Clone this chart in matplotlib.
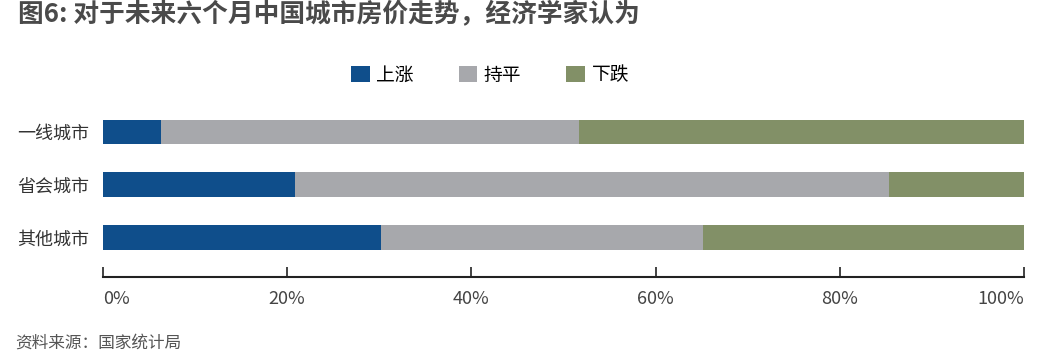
import matplotlib
matplotlib.use("Agg")
import matplotlib.pyplot as plt
import numpy as np

plt.rcParams['font.family'] = ['Noto Sans CJK SC', 'DejaVu Sans']

categories = ["一线城市", "省会城市", "其他城市"]
series_names = ["上涨", "持平", "下跌"]
up = [6.3, 20.9, 30.2]
flat = [45.4, 64.4, 35.0]
down = [48.3, 14.7, 34.8]
tick_labels = ["0%", "20%", "40%", "60%", "80%", "100%"]
colors = ["#0F4E8B", "#A7A8AC", "#829067"]

W, H = 1050, 358
fig = plt.figure(figsize=(W / 100, H / 100), dpi=100)
ax = fig.add_axes([103 / W, 1 - 277 / H, (1024 - 103) / W, (277 - 105.6) / H])

y = np.arange(len(categories))
left = np.zeros(len(categories))
for vals, name, c in zip([up, flat, down], series_names, colors):
    ax.barh(y, vals, left=left, height=0.47, color=c, label=name)
    left = left + np.array(vals)

ax.set_xlim(0, 100)
ax.set_ylim(2.75, -0.5)
ax.set_yticks(y)
ax.set_yticklabels(categories, fontsize=13, color="#333333")
ax.tick_params(axis='y', length=0, pad=10)
ax.set_xticks(np.linspace(0, 100, len(tick_labels)))
ax.set_xticklabels(tick_labels, fontsize=13, color="#444444")
xt = ax.get_xticklabels()
xt[0].set_ha("left")
xt[-1].set_ha("right")
ax.tick_params(axis='x', direction='in', length=7, width=1.2, color="#222222", pad=9)
for s in ["top", "right", "left"]:
    ax.spines[s].set_visible(False)
ax.spines["bottom"].set_linewidth(1.5)
ax.spines["bottom"].set_color("#222222")

fig.legend(loc="center", bbox_to_anchor=(490 / W, 1 - 75 / H), ncol=3, frameon=False,
           fontsize=13.5, handlelength=1.0, handleheight=1.0, handletextpad=0.35,
           columnspacing=2.4)

fig.text(18 / W, 1 - 15 / H, "图6: 对于未来六个月中国城市房价走势，经济学家认为",
         fontsize=18.5, fontweight="bold", color="#4a4a4a", va="center", ha="left")
fig.text(15 / W, 1 - 343 / H, "资料来源：国家统计局", fontsize=12, color="#555555",
         va="center", ha="left", style="italic")

fig.savefig("out.png", dpi=100)
